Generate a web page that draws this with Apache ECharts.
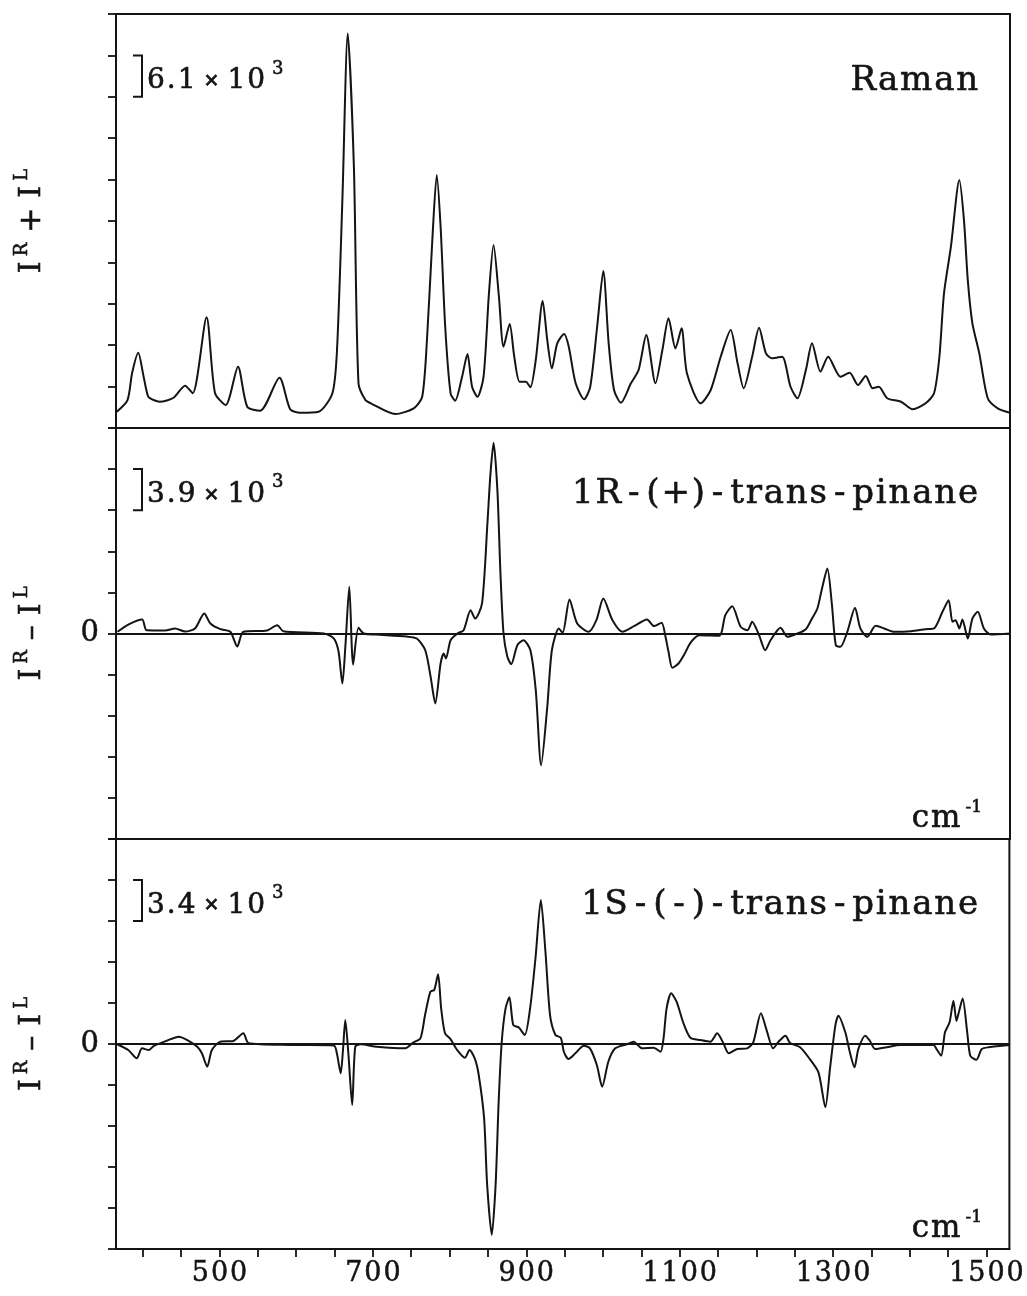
<!DOCTYPE html>
<html>
<head>
<meta charset="utf-8">
<title>Raman and ROA spectra of trans-pinane</title>
<script src="https://cdn.jsdelivr.net/npm/echarts@6/dist/echarts.min.js"></script>
<style>
  html, body { margin: 0; padding: 0; background: #fff; }
  #chart { width: 1027px; height: 1296px; }
</style>
</head>
<body>
<div id="chart"></div>
<script>
// Wavenumber axis (cm^-1)
const X_MIN = 365;
const X_MAX = 1530;
const xTickValues = [400, 450, 500, 550, 600, 650, 700, 750, 800, 850, 900, 950, 1000,
  1050, 1100, 1150, 1200, 1250, 1300, 1350, 1400, 1450, 1500];
const xLabelValues = [500, 700, 900, 1100, 1300, 1500];

// Raman spectrum, I^R + I^L
const ramanWavenumber = [366,380,386,394,401,407,414,422,440,455,465,483,494,508,524,536,553,578,592,605,629,647,653,660,667,675,681,690,697,729,753,764,770,777,783,788,794,801,807,816,823,829,836,844,851,857,864,870,878,884,891,899,905,912,921,927,933,940,949,955,964,975,983,992,1000,1007,1014,1023,1036,1046,1056,1068,1077,1085,1094,1102,1109,1127,1140,1153,1166,1175,1183,1194,1203,1212,1220,1233,1244,1253,1264,1272,1283,1293,1309,1321,1332,1342,1351,1359,1370,1388,1403,1420,1431,1438,1444,1453,1464,1470,1475,1481,1490,1501,1514,1530];
const ramanIntensity = [2400,4120,8100,11090,7560,4610,4120,3870,4460,6230,5110,16310,5160,3390,9030,3140,2550,7410,2760,2250,2400,5110,11490,33580,58140,38490,6580,4120,3640,2060,2900,4610,12520,27250,37270,29650,14920,5110,4020,7560,10900,6080,4610,7560,19840,26960,19340,11980,15320,10500,6820,6820,6000,10020,18710,12960,8790,12480,13850,11980,6580,4230,6080,14920,23130,12480,5600,3730,6580,8540,13700,6580,11490,16160,11740,14690,8060,3640,5600,10500,14440,9530,5850,10500,14770,11000,10270,10500,6080,4380,8540,12480,8290,10500,7560,8150,6330,7660,5850,6080,4380,3870,2760,3640,5110,10500,19840,26710,36530,30640,21800,15420,11000,4380,2900,2250];

// ROA spectrum of 1R-(+)-trans-pinane, I^R - I^L
const roaPlusWavenumber = [367,381,399,405,429,442,455,468,480,488,501,514,523,531,562,575,583,636,649,655,660,664,669,674,681,688,703,744,757,768,775,781,788,792,795,801,810,818,827,833,842,849,853,857,862,866,870,875,880,888,896,905,912,919,927,933,942,947,956,966,981,991,1000,1012,1025,1040,1057,1066,1076,1081,1085,1090,1098,1105,1114,1125,1151,1159,1168,1179,1188,1194,1203,1211,1218,1231,1240,1253,1264,1272,1279,1285,1292,1298,1303,1309,1318,1328,1335,1344,1355,1366,1379,1401,1420,1431,1442,1450,1455,1459,1464,1468,1475,1481,1488,1496,1505,1530];
const roaPlusIntensity = [160,850,1330,310,290,480,190,480,1900,950,410,160,-1230,160,290,790,220,0,-480,-1710,-4750,-1110,4430,-2940,540,0,-100,-290,-480,-1590,-4110,-6640,-2850,-1900,-2370,-640,0,310,2210,1420,2850,10440,15180,18100,13600,5690,0,-2210,-2910,-1110,-640,-1590,-5380,-12500,-6960,-1590,480,70,3230,950,160,1260,3320,1260,160,690,1330,700,1020,-290,-1740,-3260,-2850,-2060,-850,-160,-220,1740,2590,640,310,1110,-160,-1590,-640,540,-310,0,410,1420,2370,4270,6170,2690,-1110,-1260,160,2440,480,-310,730,480,160,220,410,480,2060,3160,1110,1260,480,1330,-480,1420,2060,480,-100,0];

// ROA spectrum of 1S-(-)-trans-pinane, I^R - I^L
const roaMinusWavenumber = [366,381,392,399,408,414,431,447,458,471,477,484,490,501,518,531,538,592,649,653,658,661,664,668,673,677,684,705,742,753,762,768,775,780,785,789,794,801,810,820,826,833,838,845,849,855,860,864,868,873,878,883,890,898,905,912,919,925,931,938,945,949,955,964,975,983,992,999,1007,1016,1031,1040,1051,1066,1075,1079,1083,1089,1096,1105,1114,1127,1140,1149,1157,1164,1175,1188,1196,1206,1213,1222,1229,1238,1244,1257,1268,1281,1290,1296,1303,1307,1316,1322,1328,1333,1342,1348,1355,1370,1388,1431,1435,1441,1446,1452,1457,1461,1464,1469,1475,1479,1487,1494,1503,1530];
const roaMinusIntensity = [0,-500,-1190,-360,-500,-170,270,610,330,-220,-770,-1880,-500,190,250,890,60,-80,-120,-770,-2430,-500,1990,-770,-5060,-220,-30,-220,-360,140,470,2400,4340,4480,5780,2960,890,420,-500,-1140,-500,-1240,-2570,-6160,-11690,-15830,-11690,-4780,190,2960,3870,1580,1380,750,2960,7110,11940,7650,2400,750,520,-640,-1240,-770,-140,-360,-1740,-3540,-1470,-360,-30,190,-360,-310,-640,470,2960,4200,3510,1720,520,330,190,890,60,-770,-420,-360,140,2550,1240,-360,190,690,80,-270,-1100,-2350,-5250,-2070,1520,2350,970,-690,-1930,-420,690,270,-420,-270,-80,-80,-420,-970,970,1800,3590,1910,2610,3770,970,-970,-1300,-420,-270,-80];

// Panel labels and scale bars (one y tick interval each)
const panelTitles = ['Raman', '1R-(+)-trans-pinane', '1S-(-)-trans-pinane'];
const scaleMantissa = ['6.1', '3.9', '3.4'];
const tickStep = [6100, 3900, 3400];
const panelMin = [0, -19500, -17000];
const panelMax = [61000, 19500, 17000];

const INK = '#141414';
const SERIF = '"DejaVu Serif", "Liberation Serif", serif';
// a thin outline in the ink colour gives the lettering a heavier stroke
const HEAVY = { stroke: INK, lineWidth: 0.6 };

function zip(xs, ys) { return xs.map((x, i) => [x, ys[i]]); }
// one rich token per character, so the glyphs can be spread out
function spaced(str, styleName) {
  return str.split('').map(ch => '{' + styleName + '|' + ch + '}').join('');
}

const grids = [
  { left: 116, right: 17, top: 14, height: 414 },
  { left: 116, right: 17, top: 428, height: 411 },
  { left: 116, right: 17, top: 839, height: 410 }
].map(g => Object.assign(g, { show: true, borderColor: INK, borderWidth: 2, backgroundColor: 'transparent' }));

const xAxes = [0, 1, 2].map(i => ({
  type: 'value', gridIndex: i, min: X_MIN, max: X_MAX,
  axisLine: { show: i === 2, onZero: false, lineStyle: { color: INK, width: 2 } },
  axisTick: i === 2 ? { show: true, customValues: xTickValues, length: 8, lineStyle: { color: INK, width: 1.8 } } : { show: false },
  axisLabel: i === 2 ? {
    show: true, customValues: xLabelValues, margin: 11,
    formatter: v => spaced(String(v), 'd'),
    rich: { d: { fontSize: 27, fontFamily: SERIF, color: INK, textBorderColor: INK, textBorderWidth: 0.5, padding: [0, 1, 0, 1] } }
  } : { show: false },
  splitLine: { show: false }
}));

const yAxes = [0, 1, 2].map(i => ({
  type: 'value', gridIndex: i, min: panelMin[i], max: panelMax[i], interval: tickStep[i],
  axisLine: { show: false },
  axisTick: { show: true, inside: false, length: 8, lineStyle: { color: INK, width: 1.8 } },
  axisLabel: {
    show: i > 0, margin: 17, fontSize: 29, fontFamily: SERIF, color: INK,
    textBorderColor: INK, textBorderWidth: 0.5,
    formatter: v => (v === 0 ? '0' : '')
  },
  splitLine: { show: false }
}));

const zeroLine = {
  silent: true, symbol: 'none', animation: false,
  label: { show: false },
  lineStyle: { color: INK, width: 1.8, type: 'solid' },
  data: [{ yAxis: 0 }]
};

function spectrum(idx, xs, ys, withZero) {
  const s = {
    type: 'line', xAxisIndex: idx, yAxisIndex: idx,
    data: zip(xs, ys), showSymbol: false, smooth: 0.25,
    lineStyle: { color: INK, width: 2, join: 'round' }, clip: true
  };
  if (withZero) s.markLine = zeroLine;
  return s;
}

const chart = echarts.init(document.getElementById('chart'), null, { renderer: 'canvas' });
chart.setOption({
  animation: false,
  backgroundColor: '#ffffff',
  grid: grids,
  xAxis: xAxes,
  yAxis: yAxes,
  series: [
    spectrum(0, ramanWavenumber, ramanIntensity, false),
    spectrum(1, roaPlusWavenumber, roaPlusIntensity, true),
    spectrum(2, roaMinusWavenumber, roaMinusIntensity, true)
  ]
});

// Annotations placed from the panel scales
function ink(style) { return Object.assign({ fontFamily: SERIF, fill: INK }, HEAVY, style); }
const richAxisTitle = {
  i: ink({ fontSize: 30 }),
  s: ink({ fontSize: 18, padding: [0, 0, 20, 5] }),
  o: ink({ fontSize: 30, padding: [0, 10, 0, 10] })
};
const richScale = {
  n: ink({ fontSize: 28, padding: [0, 1, 0, 1] }),
  x: ink({ fontSize: 19, fontWeight: 'bold', padding: [0, 7, 0, 7] }),
  e: ink({ fontSize: 18, padding: [0, 0, 24, 6] })
};
const richTitle = {
  t: ink({ fontSize: 34, padding: [0, 0.9, 0, 0.9] }),
  h: ink({ fontSize: 34, padding: [0, 6, 0, 6] })
};
const richUnit = {
  c: ink({ fontSize: 31, padding: [0, 1, 0, 1] }),
  u: ink({ fontSize: 17, padding: [0, 0, 22, 4] })
};
function titleTokens(str) {
  return str.split('').map(ch => '{' + (ch === '-' ? 'h' : 't') + '|' + ch + '}').join('');
}

const graphics = [];
for (let i = 0; i < 3; i++) {
  const gridLeft = grids[i].left;
  const gridRight = 1027 - grids[i].right;
  const yTop = chart.convertToPixel({ yAxisIndex: i }, panelMax[i] - tickStep[i]);
  const yBot = chart.convertToPixel({ yAxisIndex: i }, panelMax[i] - 2 * tickStep[i]);
  const yMid = chart.convertToPixel({ yAxisIndex: i }, (panelMin[i] + panelMax[i]) / 2);
  const bx0 = gridLeft + 17, bx1 = gridLeft + 26;

  // scale bar bracket
  graphics.push({
    type: 'polyline', silent: true,
    shape: { points: [[bx0, yTop], [bx1, yTop], [bx1, yBot], [bx0, yBot]] },
    style: { stroke: INK, lineWidth: 2, fill: null }
  });
  graphics.push({
    type: 'text', silent: true, x: bx1 + 4, y: (yTop + yBot) / 2 + 5,
    style: {
      text: spaced(scaleMantissa[i], 'n') + '{x|×}' + spaced('10', 'n') + '{e|3}', rich: richScale,
      align: 'left', verticalAlign: 'middle'
    }
  });
  // panel title
  graphics.push({
    type: 'text', silent: true, x: gridRight - 31, y: (yTop + yBot) / 2 + 5,
    style: { text: titleTokens(panelTitles[i]), rich: richTitle, align: 'right', verticalAlign: 'middle' }
  });
  // y axis title
  const sign = i === 0 ? '+' : '–';
  graphics.push({
    type: 'text', silent: true, x: 32, y: yMid, rotation: Math.PI / 2,
    style: {
      text: '{i|I}{s|R}{o|' + sign + '}{i|I}{s|L}', rich: richAxisTitle,
      align: 'center', verticalAlign: 'middle'
    }
  });
  // unit label
  if (i > 0) {
    const yBottom = chart.convertToPixel({ yAxisIndex: i }, panelMin[i]);
    graphics.push({
      type: 'text', silent: true, x: gridRight - 28, y: yBottom - 20,
      style: { text: '{c|c}{c|m}{u|-1}', rich: richUnit, align: 'right', verticalAlign: 'middle' }
    });
  }
}
chart.setOption({ graphic: graphics });
</script>
</body>
</html>
